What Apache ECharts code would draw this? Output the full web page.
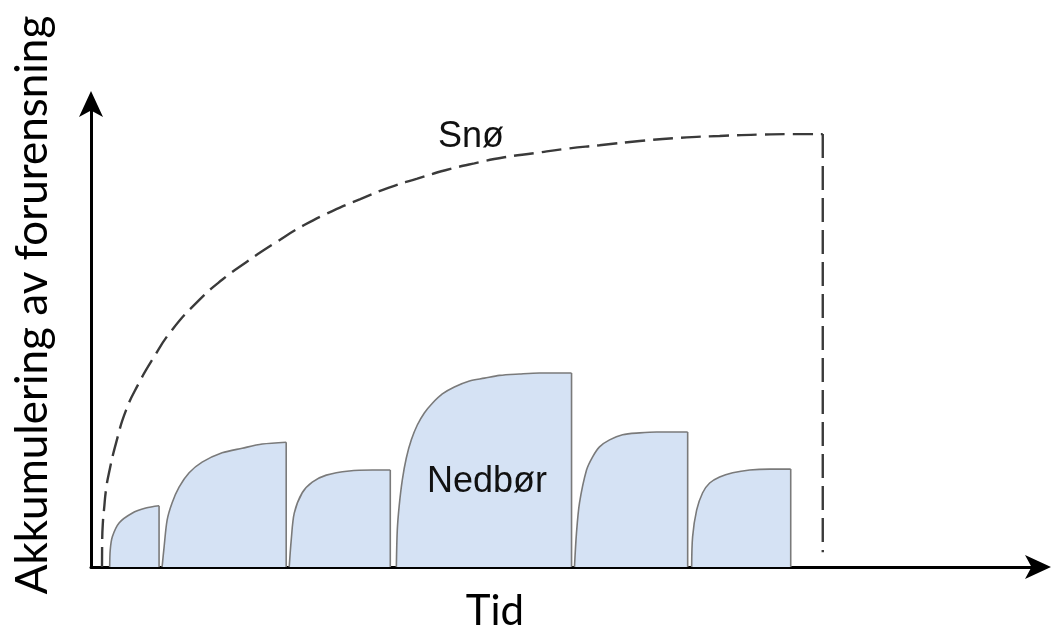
<!DOCTYPE html>
<html><head><meta charset="utf-8">
<script src="https://cdn.jsdelivr.net/npm/echarts@6/dist/echarts.min.js"></script>
<style>html,body{margin:0;padding:0;background:#fff}#c{width:1054px;height:632px}</style>
</head><body><div id="c"></div>
<script>
// ---- data (time units 0..100, accumulation units 0..100) ----
const xLabel = 'Tid';
const yLabel = 'Akkumulering av forurensning';
const snowLabel = 'Snø';
const rainLabel = 'Nedbør';

const snowCurve = [[1.16,0],[1.18,5.8],[1.27,10.1],[1.37,12.3],[1.58,16.6],[1.9,20.3],[2.64,26.7],[3.7,33.8],[5.07,39.7],[6.44,44.6],[8.55,51.1],[11.4,57.5],[13.83,61.9],[16.37,65.7],[19.54,70.0],[22.49,73.7],[25.45,76.7],[28.41,79.3],[31.36,81.7],[34.42,83.7],[37.38,85.5],[40.44,87.0],[43.61,88.3],[46.78,89.2],[49.95,90.1],[53.64,90.9],[57.87,91.8],[62.09,92.5],[66.31,92.9],[70.54,93.2],[74.76,93.3],[77.19,93.3]];
const snowDrop = [[77.19,93.3],[77.19,3.2]];

const rain1 = [[1.97,0],[2.03,3.7],[2.25,6.5],[2.96,9.5],[4.33,11.6],[5.78,12.7],[7.18,13.2]];
const rain2 = [[7.5,0],[7.71,4.3],[8.03,10.1],[8.55,13.8],[9.29,17.2],[10.35,20.3],[11.72,22.6],[13.83,24.6],[15.95,25.6],[18.06,26.5],[20.59,26.9]];
const rain3 = [[20.91,0],[21.12,5.8],[21.44,11.6],[22.28,16.0],[23.34,18.3],[24.82,19.8],[27.24,20.7],[29.67,20.9],[31.57,20.9]];
const rain4 = [[32.21,0],[32.31,8.0],[32.52,13.4],[32.84,18.8],[33.26,23.5],[33.79,27.4],[34.42,30.6],[35.16,33.2],[36.01,35.3],[37.06,37.3],[38.33,38.8],[39.92,40.1],[41.5,40.7],[43.08,41.3],[45.2,41.6],[47.31,41.8],[50.69,41.8]];
const rain5 = [[51.0,0],[51.21,7.3],[51.53,13.8],[52.27,20.9],[52.9,23.7],[53.64,25.9],[54.7,27.4],[56.07,28.5],[57.87,28.9],[59.66,29.1],[62.94,29.1]];
const rain6 = [[63.36,0],[63.46,6.5],[63.89,12.3],[64.52,16.0],[65.26,18.1],[66.31,19.4],[67.69,20.3],[69.48,20.9],[71.59,21.1],[73.81,21.1]];
const rainHumps = [rain1, rain2, rain3, rain4, rain5, rain6];

// ---- chart ----
const chart = echarts.init(document.getElementById('c'), null, {renderer: 'canvas'});
const edgeStyle = {color: '#7a7a7a', width: 1.6};
const series = [];
rainHumps.forEach(function (h) {
  series.push({
    type: 'line', data: h, smooth: 0.3, symbol: 'none',
    lineStyle: edgeStyle, areaStyle: {color: '#d5e2f4', opacity: 1}, z: 2, silent: true
  });
  const last = h[h.length - 1];
  series.push({
    type: 'line', data: [[last[0], 0], last], symbol: 'none',
    lineStyle: edgeStyle, z: 3, silent: true
  });
});
series.push({
  type: 'line', data: snowCurve, smooth: 0.5, symbol: 'none',
  lineStyle: {color: '#3a3a3a', width: 2.4, type: [20, 8]}, z: 4, silent: true
});
series.push({
  type: 'line', data: snowDrop, symbol: 'none',
  lineStyle: {color: '#3a3a3a', width: 2.4, type: [24, 8]}, z: 4, silent: true
});

const axisCommon = {
  type: 'value', min: 0, max: 100,
  axisLabel: {show: false}, axisTick: {show: false}, splitLine: {show: false},
  axisLine: {show: true, onZero: false, symbol: ['none', 'arrow'], symbolSize: [18, 26], symbolOffset: [0, 12],
    lineStyle: {color: '#000', width: 3}}
};

chart.setOption({
  animation: false,
  backgroundColor: '#fff',
  grid: {left: 91, right: 15, top: 103, bottom: 65},
  xAxis: axisCommon,
  yAxis: axisCommon,
  series: series,
  graphic: [
    {type: 'text', x: 33, y: 305, rotation: Math.PI / 2,
      style: {text: yLabel, font: '44px Lato', fill: '#000', textAlign: 'center', textVerticalAlign: 'middle'}},
    {type: 'text', x: 495, y: 611,
      style: {text: xLabel, font: '42px Lato', fill: '#000', textAlign: 'center', textVerticalAlign: 'middle'}},
    {type: 'text', x: 471, y: 137, z: 10,
      style: {text: snowLabel, font: '36px "Liberation Sans"', fill: '#111', textAlign: 'center', textVerticalAlign: 'middle'}},
    {type: 'text', x: 487, y: 482, z: 10,
      style: {text: rainLabel, font: '36px "Liberation Sans"', fill: '#111', textAlign: 'center', textVerticalAlign: 'middle'}}
  ]
});
</script></body></html>
